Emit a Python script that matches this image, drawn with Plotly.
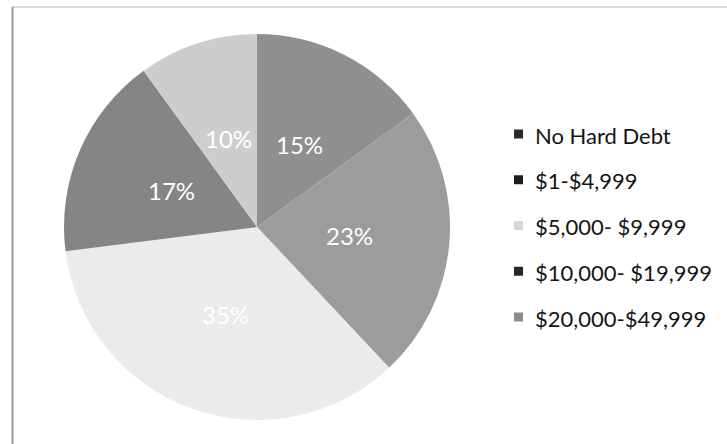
import math
import plotly.graph_objects as go

# Share of respondents by amount of hard debt
categories = ["No Hard Debt", "$1-$4,999", "$5,000- $9,999", "$10,000- $19,999", "$20,000-$49,999"]
shares = [15, 23, 35, 17, 10]

slice_colors = ["#8f8f8f", "#9c9c9c", "#ebebeb", "#858585", "#cdcdcd"]
legend_swatch_colors = ["#2a2a2a", "#1e1e1e", "#d6d6d6", "#262626", "#8c8c8c"]

W, H = 727, 444
cx, cy, R = 257, 227, 193  # pie centre and radius in pixels
label_radius = 0.48        # percentage labels sit at this fraction of the radius

fig = go.Figure(
    go.Pie(
        labels=categories,
        values=shares,
        sort=False,
        direction="clockwise",
        rotation=0,
        marker=dict(colors=slice_colors, line=dict(width=0)),
        textinfo="none",
        domain=dict(x=[(cx - R) / W, (cx + R) / W], y=[1 - (cy + R) / H, 1 - (cy - R) / H]),
        showlegend=False,
        hoverinfo="label+percent",
    )
)

annotations = []
shapes = []

# Percentage labels placed along each slice's mid-angle (clockwise from 12 o'clock)
total = sum(shares)
start = 0.0
for v in shares:
    mid = (start + v / 2) / total * 2 * math.pi
    start += v
    px = cx + label_radius * R * math.sin(mid)
    py = cy - label_radius * R * math.cos(mid)
    annotations.append(dict(
        text=f"{round(100 * v / total)}%", xref="paper", yref="paper",
        x=px / W, y=1 - py / H, xanchor="center", yanchor="middle", showarrow=False,
        font=dict(family="Lato", size=24, color="white"),
    ))

# Legend: square swatch and label for each category
legend_top, legend_step = 135, 45.75
for i, (name, col) in enumerate(zip(categories, legend_swatch_colors)):
    yc = legend_top + i * legend_step
    shapes.append(dict(
        type="rect", xref="paper", yref="paper",
        x0=514 / W, x1=523 / W, y0=1 - (yc + 3.5) / H, y1=1 - (yc - 5.5) / H,
        fillcolor=col, line=dict(width=0),
    ))
    annotations.append(dict(
        text=name, xref="paper", yref="paper", x=533 / W, y=1 - yc / H,
        xanchor="left", yanchor="middle", showarrow=False,
        font=dict(family="Lato", size=22, color="#141414"),
    ))

# Frame lines along the top and left edges
shapes.append(dict(type="line", xref="paper", yref="paper",
                   x0=12 / W, x1=1, y0=1 - 7 / H, y1=1 - 7 / H,
                   line=dict(color="#d9d9d9", width=2)))
shapes.append(dict(type="line", xref="paper", yref="paper",
                   x0=12.5 / W, x1=12.5 / W, y0=0, y1=1 - 7 / H,
                   line=dict(color="#9a9a9a", width=2)))

fig.update_layout(
    width=W, height=H,
    margin=dict(l=0, r=0, t=0, b=0),
    paper_bgcolor="white",
    plot_bgcolor="white",
    annotations=annotations,
    shapes=shapes,
)

fig.write_html("out.html")
